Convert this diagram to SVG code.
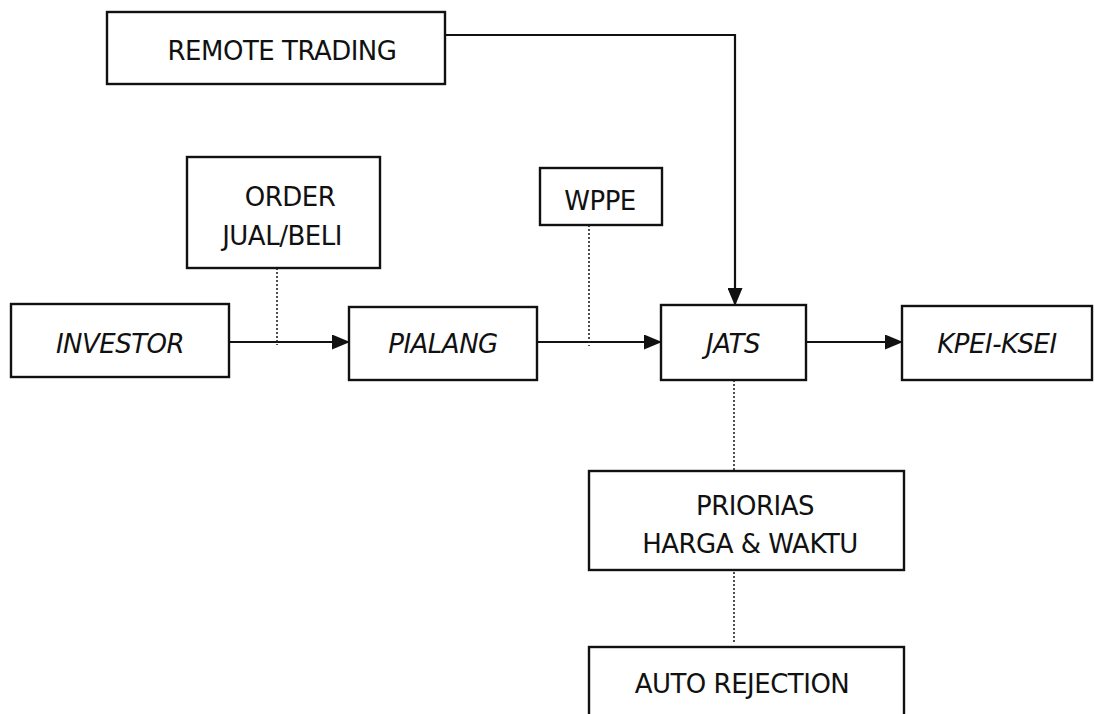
<svg xmlns="http://www.w3.org/2000/svg" width="1095" height="714" viewBox="0 0 1095 714">
<style>
.box{fill:#fff;stroke:#111;stroke-width:2.4}
.t{font-family:"DejaVu Sans",Verdana,sans-serif;font-size:26px;fill:#111;text-anchor:middle;letter-spacing:-0.5px}
.i{font-style:italic}
.ln{stroke:#111;stroke-width:2.2;fill:none}
.dt{stroke:#222;stroke-width:1.6;stroke-dasharray:2 2;fill:none}
</style>
<defs>
<marker id="ah" markerWidth="18" markerHeight="15" refX="17" refY="7.5" orient="auto" markerUnits="userSpaceOnUse">
<path d="M0,0 L18,7.5 L0,15 Z" fill="#111"/>
</marker>
</defs>
<rect width="1095" height="714" fill="#fff"/>
<g id="connectors">
<path class="ln" d="M445,35 H735 V305" marker-end="url(#ah)"/>
<path class="ln" d="M229,342 H349" marker-end="url(#ah)"/>
<path class="ln" d="M537,342 H661" marker-end="url(#ah)"/>
<path class="ln" d="M806,342 H902" marker-end="url(#ah)"/>
<path class="dt" d="M277,268 V345"/>
<path class="dt" d="M589,225 V346"/>
<path class="dt" d="M734,380 V470"/>
<path class="dt" d="M734,572 V642"/>
</g>
<g id="remote"><rect class="box" x="107" y="12" width="338" height="72"/><text class="t" x="282" y="60">REMOTE TRADING</text></g>
<g id="order"><rect class="box" x="187" y="157" width="193" height="111"/><text class="t" x="290" y="206">ORDER</text><text class="t" x="282" y="245">JUAL/BELI</text></g>
<g id="investor"><rect class="box" x="11" y="304" width="218" height="73"/><text class="t i" x="120" y="353">INVESTOR</text></g>
<g id="pialang"><rect class="box" x="349" y="307" width="188" height="73"/><text class="t i" x="443" y="353">PIALANG</text></g>
<g id="wppe"><rect class="box" x="540" y="168" width="122" height="57"/><text class="t" x="600" y="210">WPPE</text></g>
<g id="jats"><rect class="box" x="661" y="305" width="145" height="75"/><text class="t i" x="733" y="353">JATS</text></g>
<g id="kpei"><rect class="box" x="902" y="306" width="190" height="74"/><text class="t i" x="997" y="353">KPEI-KSEI</text></g>
<g id="priorias"><rect class="box" x="589" y="471" width="315" height="99"/><text class="t" x="755" y="515">PRIORIAS</text><text class="t" x="750" y="553">HARGA &amp; WAKTU</text></g>
<g id="autorej"><rect class="box" x="589" y="647" width="315" height="80"/><text class="t" x="742" y="693">AUTO REJECTION</text></g>
</svg>
